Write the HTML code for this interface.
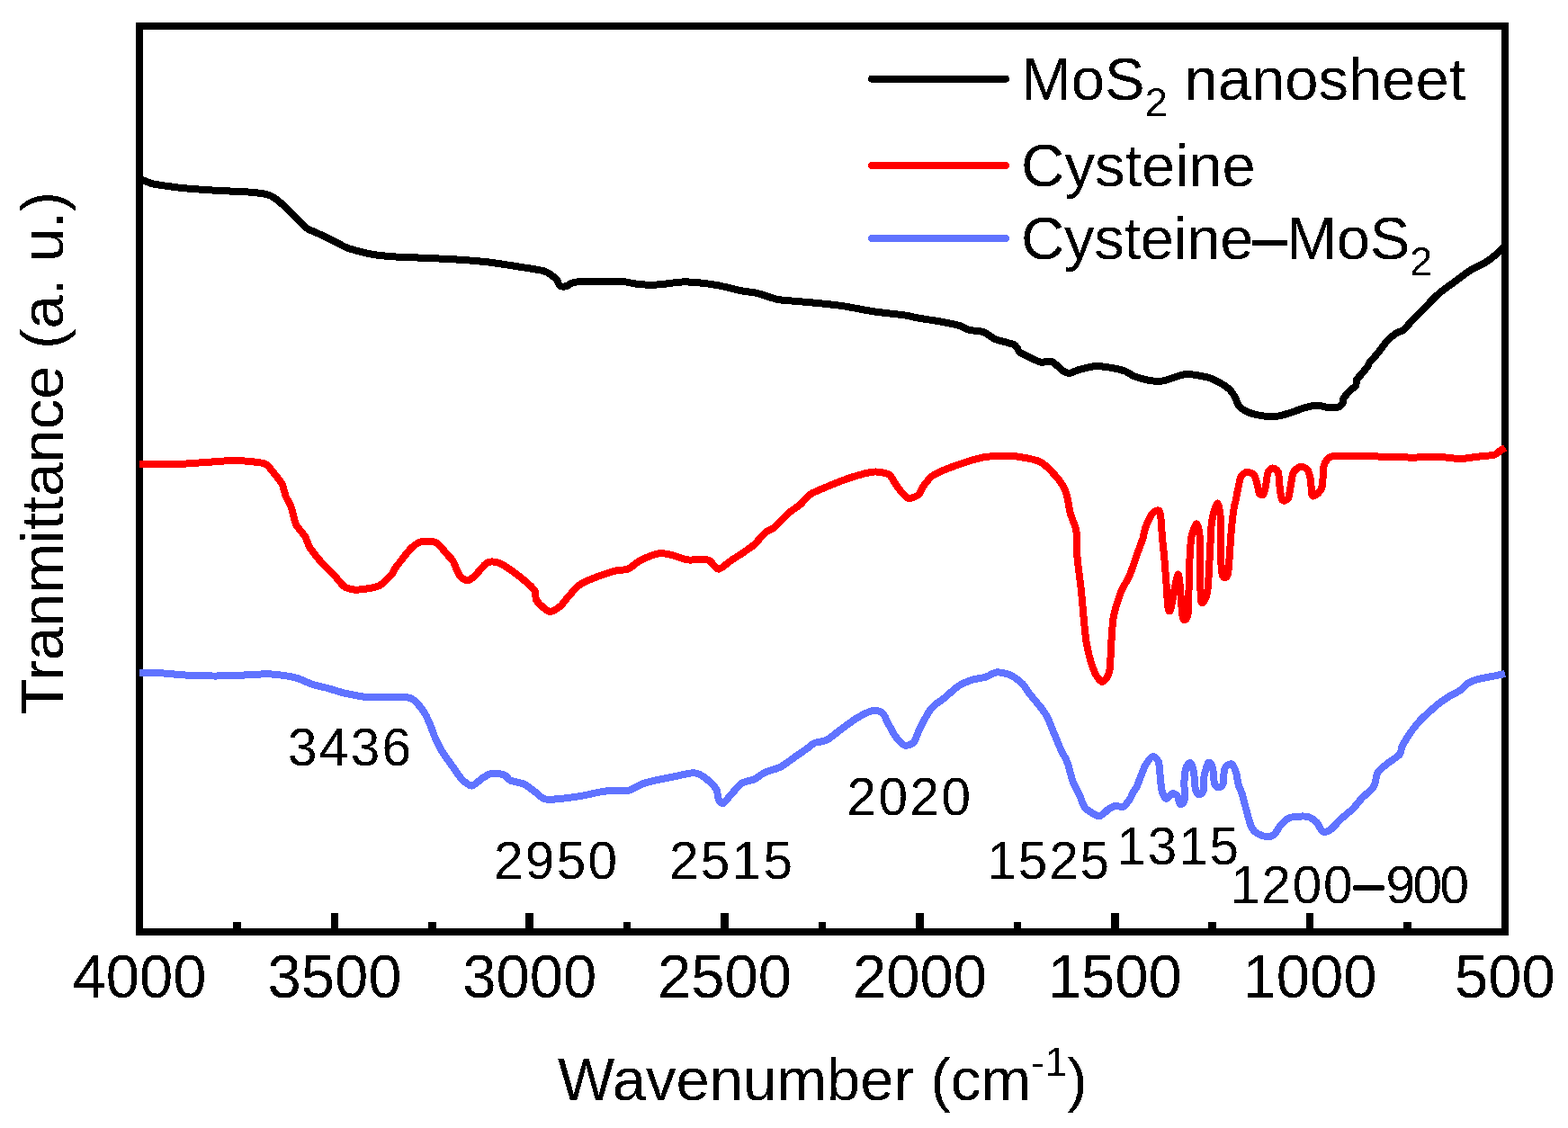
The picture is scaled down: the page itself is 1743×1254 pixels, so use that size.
<!DOCTYPE html>
<html><head><meta charset="utf-8"><title>FTIR spectra</title>
<style>html,body{margin:0;padding:0;background:#fff;overflow:hidden}svg{display:block}</style>
</head><body>
<svg width="1743" height="1254" viewBox="0 0 1743 1254">
<defs><filter id="crisp" x="0" y="0" width="1743" height="1254" filterUnits="userSpaceOnUse"><feComponentTransfer><feFuncA type="discrete" tableValues="0 1"/></feComponentTransfer></filter></defs>
<rect x="0" y="0" width="1743" height="1254" fill="#ffffff"/>
<g shape-rendering="crispEdges">
<g stroke="#000" stroke-width="8.5" fill="none"><line x1="155.0" y1="1015" x2="155.0" y2="1034" /><line x1="263.4" y1="1025" x2="263.4" y2="1034" /><line x1="371.9" y1="1015" x2="371.9" y2="1034" /><line x1="480.3" y1="1025" x2="480.3" y2="1034" /><line x1="588.7" y1="1015" x2="588.7" y2="1034" /><line x1="697.1" y1="1025" x2="697.1" y2="1034" /><line x1="805.6" y1="1015" x2="805.6" y2="1034" /><line x1="914.0" y1="1025" x2="914.0" y2="1034" /><line x1="1022.4" y1="1015" x2="1022.4" y2="1034" /><line x1="1130.9" y1="1025" x2="1130.9" y2="1034" /><line x1="1239.3" y1="1015" x2="1239.3" y2="1034" /><line x1="1347.7" y1="1025" x2="1347.7" y2="1034" /><line x1="1456.1" y1="1015" x2="1456.1" y2="1034" /><line x1="1564.6" y1="1025" x2="1564.6" y2="1034" /><line x1="1673.0" y1="1015" x2="1673.0" y2="1034" /></g>
<rect x="155" y="29" width="1518" height="1007" fill="none" stroke="#000" stroke-width="8"/>
<g fill="none" stroke-width="8" stroke-linejoin="round" stroke-linecap="butt">
<path d="M155.0,199.5 C155.5,199.6 156.7,199.7 158.6,200.3 C160.5,200.9 165.5,203.2 168.9,204.1 C172.3,205.0 180.0,206.1 184.4,206.7 C188.8,207.3 195.9,208.3 201.6,208.9 C207.3,209.5 220.6,210.5 227.5,211.0 C234.4,211.5 246.4,212.0 253.3,212.4 C260.2,212.8 273.3,213.2 279.0,213.7 C284.7,214.2 292.8,215.3 296.3,216.1 C299.8,216.9 301.9,217.8 304.9,219.9 C307.9,222.0 315.3,228.4 318.7,231.6 C322.1,234.8 327.7,240.8 330.7,243.7 C333.7,246.6 337.6,251.4 341.0,253.7 C344.4,256.0 352.1,258.8 356.5,260.9 C360.9,263.0 369.9,267.6 373.8,269.5 C377.7,271.4 382.4,274.2 385.8,275.5 C389.2,276.8 395.5,278.5 399.6,279.5 C403.7,280.5 411.4,282.5 416.8,283.3 C422.2,284.1 432.3,285.0 440.0,285.5 C447.7,286.0 465.2,286.5 474.4,286.9 C483.6,287.3 499.6,288.0 508.8,288.6 C518.0,289.2 534.1,290.4 543.3,291.5 C552.5,292.6 569.7,295.4 577.7,296.7 C585.7,298.0 598.9,299.9 603.5,301.0 C608.1,302.1 610.0,303.9 612.1,305.3 C614.2,306.7 617.6,309.6 619.0,311.3 C620.4,313.0 621.0,316.9 622.4,317.8 C623.8,318.7 627.2,318.7 629.3,318.2 C631.4,317.7 634.5,314.6 637.9,313.9 C641.3,313.2 648.2,313.2 655.1,313.0 C662.0,312.8 682.7,312.4 689.6,312.7 C696.5,313.0 702.2,315.1 706.8,315.6 C711.4,316.1 719.6,316.8 724.0,316.8 C728.4,316.8 735.8,316.0 740.0,315.6 C744.2,315.2 751.4,313.8 755.8,313.6 C760.2,313.4 767.3,313.4 773.0,313.9 C778.7,314.4 791.9,316.1 798.8,317.4 C805.7,318.7 819.0,322.3 824.7,323.4 C830.4,324.5 836.6,324.7 841.9,326.0 C847.2,327.3 858.5,331.7 864.2,332.9 C869.9,334.1 878.7,334.3 884.9,334.9 C891.1,335.5 903.8,336.5 910.7,337.2 C917.6,337.9 928.5,338.9 936.5,340.1 C944.5,341.3 961.8,344.9 971.0,346.3 C980.2,347.7 998.9,349.5 1005.4,350.4 C1011.9,351.3 1014.6,352.4 1020.0,353.4 C1025.4,354.4 1039.6,356.5 1045.8,357.6 C1052.0,358.7 1062.4,360.8 1066.5,362.0 C1070.6,363.2 1073.1,365.7 1076.8,366.7 C1080.5,367.7 1090.1,367.9 1094.0,369.3 C1097.9,370.7 1101.7,375.2 1106.1,377.0 C1110.5,378.8 1123.4,381.6 1126.7,383.0 C1130.0,384.4 1130.1,386.2 1131.0,387.3 C1131.9,388.4 1131.2,390.0 1133.6,391.6 C1136.0,393.2 1145.9,397.9 1149.1,399.4 C1152.3,400.9 1155.2,402.5 1157.7,402.8 C1160.2,403.1 1165.7,401.1 1168.0,401.6 C1170.3,402.1 1173.1,404.9 1174.9,406.3 C1176.7,407.7 1180.0,411.2 1181.8,412.3 C1183.6,413.4 1186.2,415.1 1188.7,414.9 C1191.2,414.7 1196.8,411.6 1200.7,410.6 C1204.6,409.6 1213.3,407.3 1217.9,407.1 C1222.5,406.9 1230.7,408.1 1235.1,408.8 C1239.5,409.5 1247.1,411.3 1250.6,412.6 C1254.1,413.9 1257.3,416.9 1261.0,418.3 C1264.7,419.7 1274.1,422.3 1278.2,423.0 C1282.3,423.7 1288.5,423.9 1291.9,423.5 C1295.3,423.1 1300.6,421.0 1304.0,420.0 C1307.4,419.0 1314.3,416.4 1317.6,416.0 C1320.9,415.6 1325.2,416.3 1328.9,416.9 C1332.6,417.5 1341.4,419.1 1345.3,420.4 C1349.2,421.7 1355.1,425.0 1358.0,426.7 C1360.9,428.4 1364.8,431.0 1366.8,433.0 C1368.8,435.0 1371.8,439.4 1373.1,441.8 C1374.4,444.2 1375.2,448.6 1376.9,450.7 C1378.6,452.8 1382.8,456.2 1385.7,457.6 C1388.6,459.0 1394.7,460.6 1398.4,461.4 C1402.1,462.2 1410.1,463.2 1413.5,463.3 C1416.9,463.4 1420.6,462.7 1423.6,462.0 C1426.6,461.3 1432.8,459.4 1436.2,458.3 C1439.6,457.2 1445.4,454.8 1448.8,453.8 C1452.2,452.8 1458.8,451.0 1461.5,450.7 C1464.2,450.4 1467.3,451.0 1469.0,451.3 C1470.7,451.6 1471.6,452.4 1474.1,452.6 C1476.6,452.8 1485.5,453.2 1488.0,452.5 C1490.5,451.8 1492.1,449.0 1492.8,447.7 C1493.5,446.4 1492.5,444.7 1493.5,443.0 C1494.5,441.3 1498.2,436.9 1500.0,435.0 C1501.8,433.1 1506.0,430.3 1507.1,428.6 C1508.2,426.9 1507.1,423.9 1508.0,422.2 C1508.9,420.5 1511.9,417.7 1513.5,415.8 C1515.1,413.9 1518.7,409.5 1519.9,407.8 C1521.1,406.1 1521.0,404.8 1522.3,403.1 C1523.6,401.4 1527.6,397.2 1529.4,395.1 C1531.2,393.0 1534.3,389.0 1535.8,387.1 C1537.3,385.2 1539.0,382.5 1540.6,380.7 C1542.2,378.9 1545.9,375.2 1547.8,373.6 C1549.7,372.0 1553.4,369.7 1555.0,368.8 C1556.6,367.9 1557.8,369.1 1560.0,367.2 C1562.2,365.3 1568.2,357.8 1571.4,354.4 C1574.6,351.0 1580.5,345.3 1584.2,341.6 C1587.9,337.9 1595.4,329.9 1599.5,326.3 C1603.6,322.7 1610.2,318.3 1614.8,314.9 C1619.4,311.5 1628.9,304.0 1634.0,300.8 C1639.1,297.6 1648.9,293.3 1653.1,290.6 C1657.3,287.9 1663.1,282.7 1665.8,280.4 C1668.5,278.1 1672.0,274.0 1673.0,273.0" stroke="#000"/>
<path d="M155.2,515.5 C157.9,515.6 169.6,516.2 175.8,516.2 C182.0,516.2 194.7,516.1 201.6,515.8 C208.5,515.5 219.7,514.6 227.5,514.1 C235.3,513.6 252.2,512.0 260.2,512.0 C268.2,512.0 282.9,513.5 287.7,514.1 C292.5,514.7 294.2,515.3 296.3,516.7 C298.4,518.1 300.9,521.5 303.2,524.4 C305.5,527.3 311.6,534.5 313.5,538.2 C315.4,541.9 316.4,548.6 317.8,552.0 C319.2,555.4 322.3,559.9 323.8,564.0 C325.3,568.1 326.9,578.5 329.0,582.9 C331.1,587.3 337.2,593.2 339.3,596.7 C341.4,600.2 342.2,605.1 344.5,608.8 C346.8,612.5 353.1,620.3 356.5,624.2 C359.9,628.1 366.8,634.3 370.3,638.0 C373.8,641.7 379.2,649.5 382.4,651.8 C385.6,654.1 391.0,655.3 394.4,655.6 C397.8,655.9 404.5,655.0 408.2,654.4 C411.9,653.8 418.2,653.1 421.9,650.9 C425.6,648.7 433.3,640.7 435.7,638.0 C438.1,635.3 437.1,634.6 440.0,630.8 C442.9,627.0 453.3,613.1 457.2,609.3 C461.1,605.5 465.6,602.8 469.3,602.0 C473.0,601.2 481.0,601.3 484.7,603.2 C488.4,605.1 494.3,613.3 496.8,616.1 C499.3,618.9 501.9,620.8 503.7,623.9 C505.5,627.0 508.5,636.5 510.6,639.4 C512.7,642.3 516.9,645.3 519.2,645.4 C521.5,645.5 524.8,642.8 527.8,640.2 C530.8,637.6 537.8,627.5 541.5,625.6 C545.2,623.7 551.4,624.7 555.3,626.1 C559.2,627.5 566.4,632.8 570.8,635.9 C575.2,639.0 584.8,646.8 588.0,649.7 C591.2,652.6 593.8,655.1 594.9,657.5 C596.0,659.9 594.5,664.8 596.6,667.8 C598.7,670.8 607.0,678.9 610.4,679.8 C613.8,680.7 619.7,676.4 622.4,674.3 C625.1,672.2 627.8,667.7 631.0,664.3 C634.2,660.9 639.8,652.7 646.5,648.8 C653.2,644.9 674.1,637.6 681.0,635.4 C687.9,633.2 694.1,634.2 698.2,632.5 C702.3,630.8 707.3,625.3 711.9,623.0 C716.5,620.7 727.9,616.1 732.6,615.3 C737.3,614.5 743.0,616.3 747.2,617.2 C751.4,618.1 760.3,621.8 764.4,622.4 C768.5,623.0 775.0,621.9 778.2,622.0 C781.4,622.1 785.8,621.8 788.5,623.2 C791.2,624.6 795.6,632.7 798.8,632.7 C802.0,632.7 807.5,626.6 812.6,623.2 C817.7,619.8 831.6,611.0 836.7,606.9 C841.8,602.8 847.3,595.0 850.5,592.2 C853.7,589.4 857.4,589.1 860.8,586.2 C864.2,583.3 872.4,574.1 876.3,570.7 C880.2,567.3 886.9,563.2 890.1,560.4 C893.3,557.6 896.5,552.3 900.4,549.7 C904.3,547.1 913.3,543.6 919.3,541.1 C925.3,538.6 938.2,533.3 945.1,531.1 C952.0,528.9 965.3,525.1 971.0,524.6 C976.7,524.1 984.8,525.6 988.2,527.7 C991.6,529.8 994.1,536.7 996.8,540.1 C999.5,543.5 1005.6,552.2 1008.8,553.5 C1012.0,554.8 1018.5,551.9 1020.9,550.1 C1023.3,548.3 1024.4,543.1 1026.7,540.2 C1029.0,537.3 1032.8,531.1 1037.9,528.0 C1043.0,524.9 1057.3,519.4 1064.7,516.8 C1072.1,514.2 1086.3,509.6 1093.7,508.3 C1101.1,507.0 1114.0,506.5 1120.5,506.7 C1127.0,506.9 1137.7,508.5 1142.8,509.6 C1147.9,510.7 1153.9,511.6 1158.4,514.6 C1162.9,517.6 1172.7,527.9 1176.3,532.4 C1179.9,536.9 1183.4,542.9 1185.2,548.0 C1187.0,553.1 1188.2,564.7 1189.7,570.4 C1191.2,576.1 1195.4,584.0 1196.4,590.5 C1197.4,597.0 1196.8,610.6 1197.5,619.5 C1198.2,628.4 1200.7,644.9 1202.0,657.4 C1203.3,669.9 1205.6,701.4 1207.5,713.3 C1209.4,725.2 1214.1,740.8 1216.5,746.7 C1218.9,752.6 1223.2,757.9 1225.4,757.9 C1227.6,757.9 1231.9,752.6 1233.2,746.7 C1234.5,740.8 1234.8,721.3 1235.4,713.3 C1236.0,705.3 1236.4,693.6 1237.7,686.5 C1239.0,679.4 1243.1,666.1 1245.5,659.7 C1247.9,653.3 1253.5,644.6 1256.0,638.8 C1258.5,633.0 1262.0,621.7 1263.9,616.4 C1265.8,611.1 1269.0,602.9 1270.3,598.9 C1271.6,594.9 1272.0,589.9 1273.5,586.1 C1275.0,582.3 1279.4,572.4 1281.5,570.2 C1283.6,568.0 1288.0,565.7 1289.4,569.4 C1290.8,573.1 1291.3,590.8 1292.0,597.8 C1292.7,604.8 1293.8,614.6 1294.4,621.8 C1295.0,629.0 1296.2,644.5 1296.7,651.7 C1297.2,658.9 1297.9,672.3 1298.5,675.6 C1299.1,678.9 1300.0,681.7 1301.5,676.8 C1303.0,671.9 1308.1,637.2 1309.9,638.5 C1311.7,639.8 1313.3,680.7 1314.7,686.4 C1316.1,692.1 1319.7,688.6 1320.7,681.6 C1321.7,674.6 1321.4,644.9 1321.9,633.7 C1322.4,622.5 1323.2,604.7 1324.3,597.8 C1325.4,590.9 1328.9,582.3 1330.2,582.3 C1331.5,582.3 1333.3,590.9 1333.8,597.8 C1334.3,604.7 1333.6,624.1 1333.8,633.7 C1334.0,643.3 1334.5,666.4 1335.6,669.6 C1336.7,672.8 1340.9,665.7 1342.2,657.7 C1343.5,649.7 1344.6,620.2 1345.2,609.8 C1345.8,599.4 1346.0,586.6 1347.0,579.9 C1348.0,573.2 1351.7,560.4 1353.0,559.6 C1354.3,558.8 1356.1,567.2 1356.6,573.9 C1357.1,580.6 1356.3,601.0 1356.6,609.8 C1356.9,618.6 1357.9,635.9 1359.0,639.7 C1360.1,643.5 1363.8,642.5 1364.9,638.5 C1366.0,634.5 1366.7,616.8 1367.3,609.8 C1367.9,602.8 1368.5,592.3 1369.1,585.9 C1369.7,579.5 1371.5,565.8 1372.1,562.0 C1372.7,558.2 1372.9,559.8 1373.4,557.5 C1373.9,555.2 1375.2,548.2 1376.0,544.5 C1376.8,540.8 1378.1,532.5 1379.5,529.9 C1380.9,527.3 1384.5,525.0 1386.4,524.8 C1388.3,524.6 1392.6,526.4 1394.1,528.2 C1395.6,530.0 1396.7,535.8 1397.5,538.5 C1398.3,541.2 1399.2,547.3 1400.1,548.8 C1401.0,550.3 1403.5,550.8 1404.4,549.7 C1405.3,548.6 1406.3,543.5 1407.0,540.2 C1407.7,536.9 1408.6,527.4 1409.6,524.8 C1410.6,522.2 1413.3,520.4 1414.8,520.4 C1416.3,520.4 1419.8,522.2 1420.8,524.8 C1421.8,527.4 1421.9,536.1 1422.5,540.2 C1423.1,544.3 1423.8,553.9 1425.1,555.7 C1426.4,557.5 1430.6,556.6 1432.0,554.0 C1433.4,551.4 1434.6,539.8 1435.4,535.9 C1436.2,532.0 1436.6,527.1 1438.0,524.8 C1439.4,522.5 1443.6,519.0 1445.7,518.7 C1447.8,518.4 1452.0,520.2 1453.5,522.2 C1455.0,524.2 1456.2,529.6 1456.9,533.4 C1457.6,537.2 1457.6,548.5 1458.6,550.6 C1459.6,552.7 1463.2,550.2 1464.7,548.8 C1466.2,547.4 1468.9,544.2 1469.8,540.2 C1470.7,536.2 1470.7,522.7 1471.5,518.7 C1472.3,514.7 1474.4,511.6 1475.8,510.1 C1477.2,508.6 1478.8,507.5 1481.9,507.1 C1485.0,506.7 1493.8,506.9 1499.1,506.9 C1504.4,506.9 1515.9,507.2 1521.8,507.3 C1527.7,507.4 1537.1,507.6 1543.6,507.8 C1550.1,508.0 1563.6,508.6 1570.9,508.6 C1578.2,508.6 1591.1,507.6 1598.1,507.8 C1605.1,508.0 1617.4,510.0 1623.2,510.0 C1629.0,510.0 1636.6,508.4 1641.7,507.8 C1646.8,507.2 1657.8,506.5 1661.3,505.6 C1664.8,504.7 1666.3,501.7 1667.9,500.7 C1669.5,499.7 1672.6,498.4 1673.3,498.0" stroke="#ff0000"/>
<path d="M155.2,748.1 C159.1,748.2 178.2,748.3 184.4,748.6 C190.6,748.9 194.7,749.9 201.6,750.3 C208.5,750.7 228.1,751.4 236.1,751.5 C244.1,751.6 253.9,751.3 261.9,751.0 C269.9,750.7 289.4,749.3 296.3,749.3 C303.2,749.3 308.9,750.1 313.5,750.7 C318.1,751.3 326.1,752.7 330.7,754.1 C335.3,755.5 343.3,759.5 347.9,761.0 C352.5,762.5 360.5,764.0 365.1,765.3 C369.7,766.6 376.7,769.1 382.4,770.4 C388.1,771.7 401.3,774.5 408.2,775.1 C415.1,775.7 427.9,775.0 434.0,775.1 C440.1,775.2 450.2,775.0 453.8,775.5 C457.4,776.0 458.4,776.8 460.7,778.9 C463.0,781.0 468.7,787.5 471.0,791.0 C473.3,794.5 476.3,801.1 477.9,804.8 C479.5,808.5 481.2,814.4 483.0,818.5 C484.8,822.6 488.8,831.1 491.6,835.7 C494.4,840.3 500.9,849.0 503.7,852.9 C506.5,856.8 509.6,862.2 512.3,865.0 C515.0,867.8 521.1,873.6 524.3,873.6 C527.5,873.6 533.4,866.8 536.4,865.0 C539.4,863.2 543.5,860.3 546.7,859.8 C549.9,859.3 557.7,860.5 560.5,861.5 C563.3,862.5 564.4,866.2 567.4,867.6 C570.4,869.0 579.2,870.2 582.9,871.9 C586.6,873.6 591.9,878.3 594.9,880.5 C597.9,882.7 601.8,887.2 605.2,888.2 C608.6,889.2 615.2,888.7 620.7,888.2 C626.2,887.7 639.6,885.9 646.5,884.8 C653.4,883.7 665.5,880.4 672.4,879.6 C679.3,878.8 692.5,879.9 698.2,878.8 C703.9,877.7 711.2,872.5 715.4,871.0 C719.6,869.5 725.8,868.2 730.0,867.2 C734.2,866.2 742.1,864.8 747.2,863.8 C752.3,862.8 764.0,860.0 767.9,859.5 C771.8,859.0 774.0,859.4 776.5,860.4 C779.0,861.4 784.2,864.9 786.8,867.2 C789.4,869.5 794.7,874.7 796.3,877.6 C797.9,880.5 797.8,886.7 798.8,888.8 C799.8,890.9 802.4,893.6 804.0,893.1 C805.6,892.6 808.1,888.3 810.9,885.3 C813.7,882.3 821.0,873.2 824.7,870.7 C828.4,868.2 835.0,868.0 838.4,866.4 C841.8,864.8 846.6,860.4 850.5,858.6 C854.4,856.8 863.1,855.0 867.7,852.6 C872.3,850.2 880.8,843.5 884.9,840.6 C889.0,837.7 895.9,833.1 898.7,831.1 C901.5,829.1 902.9,827.0 905.6,825.9 C908.3,824.8 915.2,824.7 919.3,822.5 C923.4,820.3 931.9,812.9 936.5,809.6 C941.1,806.3 949.2,800.1 953.8,797.5 C958.4,794.9 967.3,790.4 971.0,789.8 C974.7,789.2 979.2,791.5 981.3,793.2 C983.4,794.9 984.7,799.4 986.5,802.7 C988.3,806.0 992.6,814.8 995.1,818.2 C997.6,821.6 1002.7,827.6 1005.4,828.5 C1008.1,829.4 1013.4,827.6 1015.7,825.1 C1018.0,822.6 1020.0,814.6 1022.6,809.6 C1025.2,804.6 1031.5,792.1 1035.2,787.6 C1038.9,783.1 1046.3,778.8 1050.3,775.5 C1054.3,772.2 1061.5,765.2 1065.5,762.6 C1069.5,760.0 1076.6,757.1 1080.6,755.8 C1084.6,754.5 1092.2,753.8 1095.8,752.7 C1099.4,751.6 1104.3,747.7 1107.9,747.4 C1111.5,747.1 1119.2,748.8 1123.0,750.5 C1126.8,752.2 1133.9,757.6 1136.7,760.3 C1139.5,763.0 1141.4,767.3 1144.2,770.9 C1147.0,774.5 1155.3,784.2 1157.9,787.6 C1160.5,791.0 1162.1,793.1 1163.9,796.7 C1165.7,800.3 1169.5,810.0 1171.5,814.8 C1173.5,819.6 1177.1,828.5 1179.1,833.0 C1181.1,837.5 1184.9,843.3 1186.7,848.2 C1188.5,853.1 1190.9,864.6 1192.7,869.4 C1194.5,874.2 1198.5,880.7 1200.3,884.5 C1202.1,888.3 1203.6,895.2 1206.4,898.2 C1209.2,901.2 1218.1,907.1 1221.5,907.3 C1224.9,907.5 1229.7,901.2 1232.1,899.7 C1234.5,898.2 1237.5,896.3 1239.7,895.9 C1241.9,895.5 1246.6,897.8 1248.8,896.7 C1251.0,895.6 1254.9,889.8 1256.4,887.6 C1257.9,885.4 1259.0,881.7 1260.0,880.0 C1261.0,878.3 1262.8,876.6 1263.8,874.5 C1264.8,872.4 1266.4,867.2 1267.7,864.0 C1269.0,860.8 1271.6,853.7 1273.4,850.6 C1275.2,847.5 1279.2,841.6 1281.1,841.1 C1283.0,840.6 1286.7,843.9 1287.8,846.8 C1288.9,849.7 1289.2,858.8 1289.7,863.1 C1290.2,867.4 1290.7,876.0 1291.6,879.3 C1292.5,882.6 1294.9,887.5 1296.4,887.9 C1297.9,888.3 1301.4,882.6 1303.1,882.2 C1304.8,881.8 1307.7,883.6 1308.8,885.1 C1309.9,886.6 1310.7,893.1 1311.7,893.7 C1312.7,894.3 1315.9,893.4 1316.5,889.9 C1317.1,886.4 1316.2,872.7 1316.5,867.8 C1316.8,862.9 1317.5,856.1 1318.4,853.5 C1319.3,850.9 1322.1,847.6 1323.2,848.2 C1324.3,848.8 1326.2,854.4 1327.0,858.3 C1327.8,862.2 1328.1,874.1 1328.9,877.4 C1329.7,880.7 1331.6,882.9 1332.7,883.2 C1333.8,883.5 1336.7,882.0 1337.5,879.3 C1338.3,876.6 1337.7,867.3 1338.5,863.1 C1339.3,858.9 1342.0,849.1 1343.3,847.8 C1344.6,846.5 1347.1,850.4 1348.0,853.5 C1348.9,856.6 1349.1,867.8 1350.0,870.7 C1350.9,873.6 1353.4,875.4 1354.7,875.5 C1356.0,875.6 1358.6,874.5 1359.5,871.7 C1360.4,868.9 1360.1,857.4 1361.4,854.4 C1362.7,851.4 1367.4,848.7 1369.1,849.2 C1370.8,849.7 1372.9,855.2 1373.9,858.3 C1374.9,861.4 1375.8,869.4 1376.7,872.6 C1377.6,875.8 1379.6,879.0 1380.6,882.2 C1381.6,885.4 1383.4,892.8 1384.4,896.6 C1385.4,900.4 1387.2,907.6 1388.2,910.9 C1389.2,914.2 1390.7,919.2 1392.1,921.4 C1393.5,923.6 1396.6,926.0 1398.8,927.2 C1401.0,928.4 1406.0,930.0 1408.4,930.1 C1410.8,930.2 1414.7,929.3 1416.7,927.6 C1418.7,925.9 1421.2,920.0 1423.4,917.5 C1425.6,915.0 1430.4,910.5 1433.5,909.2 C1436.6,907.9 1444.0,907.6 1446.9,907.5 C1449.8,907.4 1453.1,907.4 1455.3,908.3 C1457.5,909.2 1461.6,912.1 1463.6,914.2 C1465.6,916.3 1468.3,923.1 1470.3,924.2 C1472.3,925.3 1476.0,924.4 1478.7,922.6 C1481.4,920.8 1487.1,913.9 1490.4,910.8 C1493.7,907.7 1500.7,902.2 1503.8,899.1 C1506.9,896.0 1510.8,890.7 1513.9,887.4 C1517.0,884.1 1525.0,877.8 1527.3,874.0 C1529.6,870.2 1529.4,862.2 1531.4,858.9 C1533.4,855.6 1539.1,851.6 1542.3,848.9 C1545.5,846.2 1553.5,841.5 1555.7,838.8 C1557.9,836.1 1557.1,832.6 1559.1,828.8 C1561.1,825.0 1568.1,814.2 1570.8,810.4 C1573.5,806.6 1576.7,802.9 1579.2,800.3 C1581.7,797.7 1586.7,793.3 1589.2,791.1 C1591.7,788.9 1594.9,785.7 1597.6,783.6 C1600.3,781.5 1606.0,777.3 1609.3,775.2 C1612.6,773.1 1619.8,769.7 1622.7,767.7 C1625.6,765.7 1628.4,761.8 1631.1,760.1 C1633.8,758.4 1639.0,756.2 1642.8,755.1 C1646.6,754.0 1655.5,752.6 1659.5,751.8 C1663.5,751.0 1671.2,749.4 1673.0,749.0" stroke="#6073ff"/>
</g>
<g stroke-width="8" stroke-linecap="round">
<line x1="969" y1="87.7" x2="1118" y2="87.7" stroke="#000"/>
<line x1="969" y1="184" x2="1118" y2="184" stroke="#ff0000"/>
<line x1="969" y1="265" x2="1118" y2="265" stroke="#6073ff"/>
</g>
</g>
<g font-family='"Liberation Sans", Arial, sans-serif' fill="#000" filter="url(#crisp)">
<g font-size="67" transform="translate(0,1109) scale(1,1.03) translate(0,-1109)"><text x="155.0" y="1109" text-anchor="middle">4000</text><text x="371.9" y="1109" text-anchor="middle">3500</text><text x="588.7" y="1109" text-anchor="middle">3000</text><text x="805.6" y="1109" text-anchor="middle">2500</text><text x="1022.4" y="1109" text-anchor="middle">2000</text><text x="1239.3" y="1109" text-anchor="middle">1500</text><text x="1456.1" y="1109" text-anchor="middle">1000</text><text x="1673.0" y="1109" text-anchor="middle">500</text></g>
<text x="620" y="1223" font-size="67">Wavenumber (cm<tspan font-size="45" dy="-27">-1</tspan><tspan dy="27">)</tspan></text>
<text transform="translate(70,795) rotate(-90)" font-size="67">Tranmittance (a. u.)</text>
<g font-size="67">
<text x="1135" y="111">MoS<tspan font-size="45" dy="18">2</tspan><tspan dy="-18"> nanosheet</tspan></text>
<text x="1135" y="207">Cysteine</text>
<text x="1135" y="288" letter-spacing="-0.3">Cysteine<tspan stroke="#000" stroke-width="1.8" dy="-1.5">–</tspan><tspan dy="1.5">MoS</tspan><tspan font-size="45" dy="18">2</tspan></text>
</g>
<g font-size="58.5" letter-spacing="1.8">
<text x="320" y="851" letter-spacing="2.3">3436</text>
<text x="549" y="977" letter-spacing="2.3">2950</text>
<text x="744" y="977" letter-spacing="2.3">2515</text>
<text x="941.5" y="906" letter-spacing="2.5">2020</text>
<text x="1097.5" y="977">1525</text>
<text x="1241.5" y="960.5">1315</text>
<text x="1368" y="1003.5">1200<tspan stroke="#000" stroke-width="1.6" dy="-2">–</tspan><tspan x="1540.5" dy="2" letter-spacing="-2.5">900</tspan></text>
</g>
</g>
</svg>
</body></html>
